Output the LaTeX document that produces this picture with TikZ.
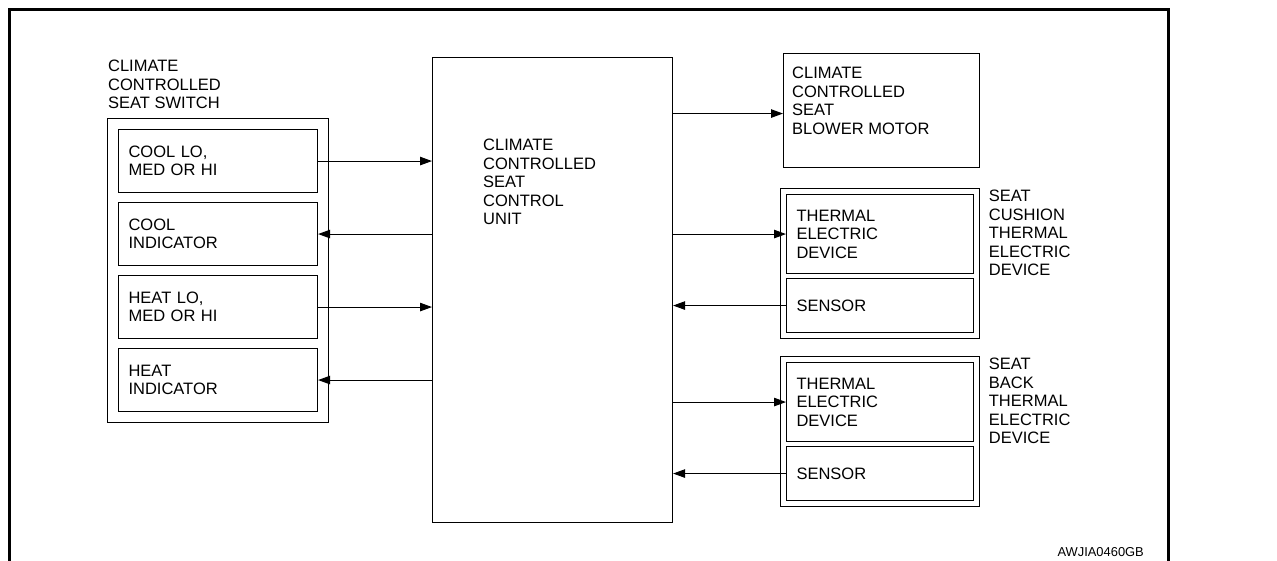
\documentclass[tikz,border=0pt]{standalone}
\usepackage{fontspec}
\setmainfont{Liberation Sans}
\usetikzlibrary{arrows.meta,fit,positioning}

\begin{document}
\begin{tikzpicture}[
    x=1pt, y=-1pt,
    every node/.style={font=\fontsize{16.5}{18.5}\selectfont},
    % Single box, text set flush left
    unit box/.style={
        rectangle, draw, line width=1.1pt,
        anchor=north west, align=left,
        inner xsep=10pt, inner ysep=0pt
    },
    % Frame round a group of boxes
    group box/.style={
        rectangle, draw, line width=1.1pt
    },
    % Free text (titles, box contents)
    plain text/.style={
        inner sep=0pt, align=left
    },
    % Signal line with arrow
    signal/.style={
        -{Triangle[length=12pt,width=8.5pt]}, line width=1pt
    }
]
\useasboundingbox (0,0) rectangle (1277,561);

% --- Page frame ---
\draw[line width=3pt] (9,561) -- (9,9.5) -- (1168,9.5) -- (1168,561);

% --- Switch (left) ---
\node[unit box, text width=179pt, minimum height=63pt] (cool) at (118,129) {COOL LO,\\MED OR HI};
\node[unit box, text width=179pt, minimum height=63pt] (coolind) at (118,202) {COOL\\INDICATOR};
\node[unit box, text width=179pt, minimum height=63pt] (heat) at (118,275) {HEAT LO,\\MED OR HI};
\node[unit box, text width=179pt, minimum height=63pt] (heatind) at (118,348) {HEAT\\INDICATOR};
\node[group box, inner sep=10.5pt, fit=(cool)(heatind)] (switch) {};
\node[plain text, above right=9pt and 1pt of switch.north west] (switchname)
    {CLIMATE\\CONTROLLED\\SEAT SWITCH};

% --- Control unit (middle) ---
\node[group box, anchor=north west, minimum width=240pt, minimum height=465pt] (ccu) at (432,57) {};
\node[plain text, below right=82pt and 51pt of ccu.north west] (ccuname)
    {CLIMATE\\CONTROLLED\\SEAT\\CONTROL\\UNIT};

% --- Blower motor (top right) ---
\node[group box, anchor=north west, minimum width=196pt, minimum height=114pt] (blower) at (783,53) {};
\node[plain text, below right=14pt and 9pt of blower.north west] (blowername)
    {CLIMATE\\CONTROLLED\\SEAT\\BLOWER MOTOR};

% --- Seat cushion device ---
\node[unit box, text width=167pt, minimum height=79pt] (cted) at (786,194) {THERMAL\\ELECTRIC\\DEVICE};
\node[unit box, text width=167pt, minimum height=54pt] (csensor) at (786,278) {SENSOR};
\node[group box, inner sep=5.5pt, fit=(cted)(csensor)] (cushion) {};
\node[plain text, below right=2pt and 8.5pt of cushion.north east] (cushionname)
    {SEAT\\CUSHION\\THERMAL\\ELECTRIC\\DEVICE};

% --- Seat back device ---
\node[unit box, text width=167pt, minimum height=79pt] (bted) at (786,362) {THERMAL\\ELECTRIC\\DEVICE};
\node[unit box, text width=167pt, minimum height=54pt] (bsensor) at (786,446) {SENSOR};
\node[group box, inner sep=5.5pt, fit=(bted)(bsensor)] (back) {};
\node[plain text, below right=2pt and 8.5pt of back.north east] (backname)
    {SEAT\\BACK\\THERMAL\\ELECTRIC\\DEVICE};

% --- Signals ---
\draw[signal] (cool.east) -- (cool.east -| ccu.west);
\draw[signal] (coolind.east -| ccu.west) -- (coolind.east);
\draw[signal] (heat.east) -- (heat.east -| ccu.west);
\draw[signal] (heatind.east -| ccu.west) -- (heatind.east);
\draw[signal] ([yshift=-3pt]ccu.east |- blower.west) -- ([yshift=-3pt]blower.west);
\draw[signal] (ccu.east |- cted.west) -- (cted.west);
\draw[signal] (csensor.west) -- (csensor.west -| ccu.east);
\draw[signal] (ccu.east |- bted.west) -- (bted.west);
\draw[signal] (bsensor.west) -- (bsensor.west -| ccu.east);

% --- Figure code ---
\node[plain text, anchor=south east, font=\fontsize{12.9}{14}\selectfont] (figcode) at (1144,557) {AWJIA0460GB};

\end{tikzpicture}
\end{document}
